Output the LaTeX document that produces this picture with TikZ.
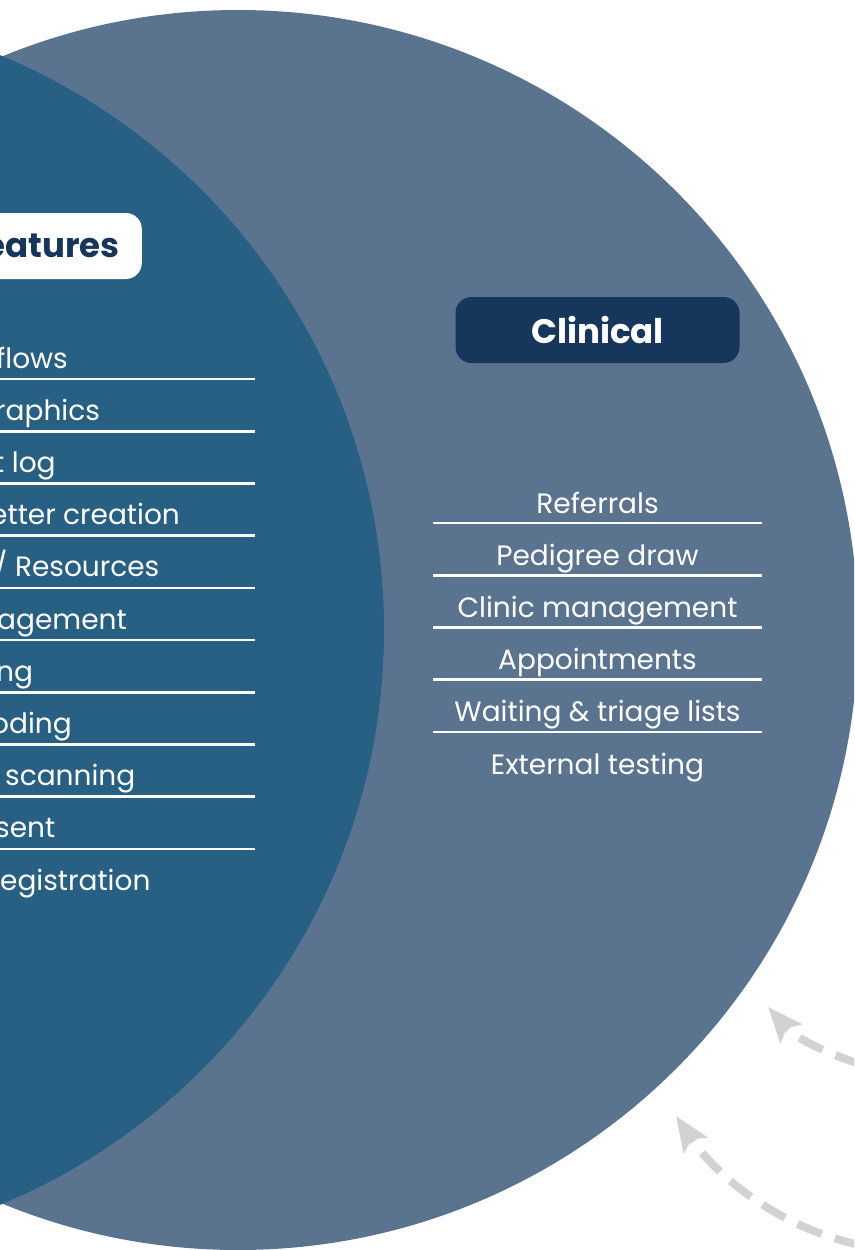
\documentclass[tikz,border=0pt]{standalone}
\usepackage{fontspec}
\setmainfont{Poppins}
\usepackage{tikz}
\usetikzlibrary{arrows.meta}
\definecolor{slateblue}{HTML}{5A7490}
\definecolor{deepblue}{HTML}{286084}
\definecolor{navyblue}{HTML}{16365C}
\definecolor{loopgrey}{HTML}{D1D2D4}

\begin{document}
\begin{tikzpicture}[x=1pt,y=-1pt,line join=round,
  item/.style={text=white,font=\fontsize{28}{32}\selectfont,inner sep=0pt},
  rule/.style={white,line width=2.6pt},
  badge/.style={rounded corners=16pt,minimum height=66pt,inner sep=0pt,font=\fontsize{34}{40}\selectfont\bfseries},
  loop/.style={loopgrey,line width=8pt,dash pattern=on 26pt off 14pt,-{Stealth[length=35pt,width=28pt,inset=7pt]}}]
\useasboundingbox (0,0) rectangle (854,1250);
\clip (0,0) rectangle (854,1250);
\fill[slateblue] (238,630) circle (620);
\fill[deepblue] (-238,630) circle (622);
% left circle, cut at the border
\node[badge,fill=white,text=navyblue,anchor=east,inner xsep=22pt] (features) at (142,246) {eatures};
\foreach \y in {379,431.2,...,849}
\draw[rule] (0,\y) -- (255,\y);
\foreach \x/\txt [count=\i] in {-4/flows,-5/raphics,-6/t log,-10/etter creation,-6/{/ Resources},-3/agement,-4/ng,-9/oding,5/scanning,-5/sent,0/egistration}
\node[item,anchor=base west] (core-\i) at (\x,368+52.2*\i-52.2) {\txt};
% right circle
\node[badge,fill=navyblue,text=white,minimum width=284pt] (clinical) at (597.5,330) {Clinical};
\foreach \y in {523,575.2,...,733}
\draw[rule] (433,\y) -- (762,\y);
\foreach \txt [count=\i] in {Referrals,Pedigree draw,Clinic management,Appointments,Waiting \& triage lists,External testing}
\node[item,anchor=base] (clin-\i) at (597.5,513+52.2*\i-52.2) {\txt};
% grey loops
\coordinate (loopa) at (860,1064);
\coordinate (loopatip) at (768,1007);
\coordinate (loopb) at (860,1245);
\coordinate (loopbtip) at (676,1116);
\draw[loop] (loopa) .. controls (826,1053) and (795,1038) .. (loopatip);
\draw[loop] (loopb) .. controls (772,1226) and (712,1170) .. (loopbtip);
\end{tikzpicture}
\end{document}
